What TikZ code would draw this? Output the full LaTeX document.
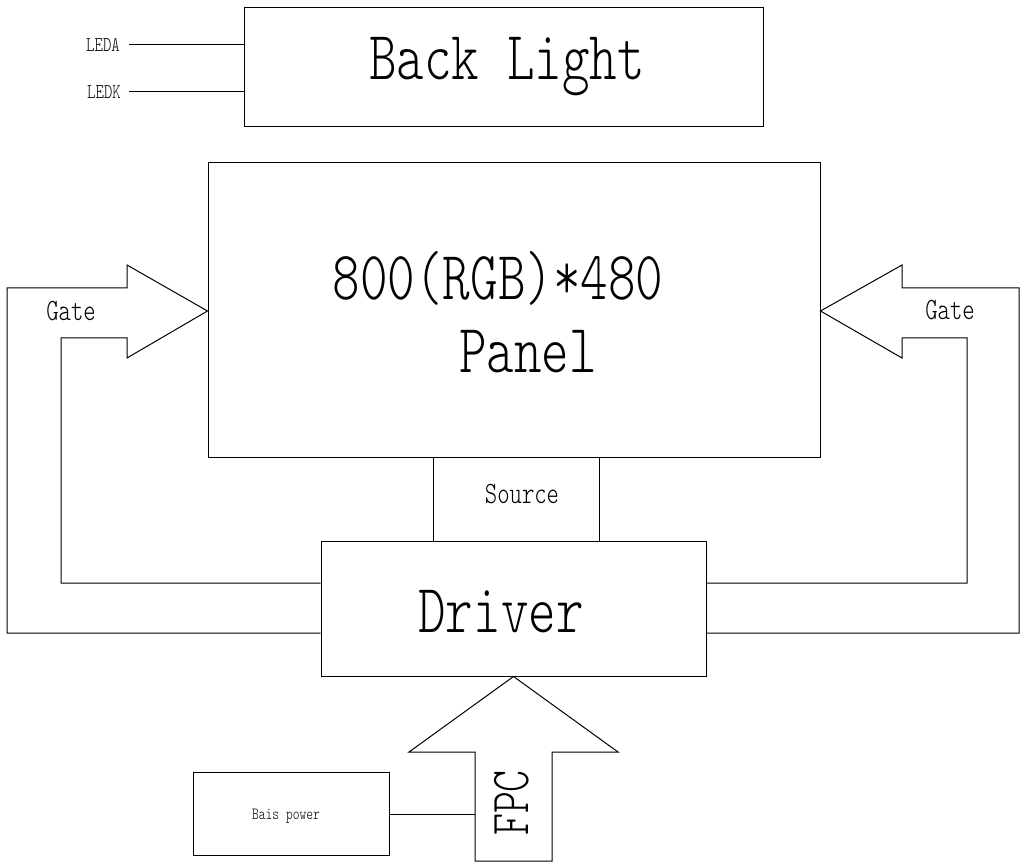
\documentclass[tikz,border=0pt]{standalone}
\usepackage{fontspec}
\usepackage{tikz}
\newfontfamily\cadfont[FakeStretch=0.76]{Latin Modern Mono Light}
\tikzset{
  blk/.style={draw, line width=1pt, minimum width=#1, inner sep=0pt},
  wire/.style={draw, line width=1pt},
  big/.style={font=\cadfont\fontsize{69}{69}\selectfont, inner sep=0pt},
  mid/.style={font=\cadfont\fontsize{31}{31}\selectfont, inner sep=0pt},
  small/.style={font=\cadfont\fontsize{21}{21}\selectfont, inner sep=0pt}
}
\begin{document}
\begin{tikzpicture}[x=1pt, y=-1pt]
\useasboundingbox (0,0) rectangle (1025,866);
\node[blk=519pt, minimum height=119pt] (Back) at (503.5,67.5) {};
\node[blk=612pt, minimum height=294pt] (Panel) at (514,310) {};
\node[blk=385pt, minimum height=135pt] (Driver) at (513.5,608.5) {};
\node[blk=196pt, minimum height=83pt] (Bais) at (291,813.5) {};
\node[big, anchor=base] (Label) at (507,80) {Back Light};
\node[big, anchor=base] (Label) at (498,300) {800(RGB)*480};
\node[big, anchor=base] (Label) at (528,372) {Panel};
\node[big, anchor=base] (Label) at (501,632) {Driver};
\node[mid, anchor=base] (Label) at (71,321) {Gate};
\node[mid, anchor=base] (Label) at (950,320) {Gate};
\node[mid, anchor=base] (Label) at (522,503) {Source};
\node[small, anchor=base] (Label) at (103,52) {LEDA};
\node[small, anchor=base] (Label) at (104,99) {LEDK};
\node[font=\cadfont\fontsize{17}{17}\selectfont, inner sep=0pt, anchor=base] (Label) at (286,819) {Bais power};
\node[font=\cadfont\fontsize{55}{55}\selectfont, inner sep=0pt, anchor=base, rotate=90] (Label) at (528,803) {FPC};
\foreach \y/\n in {45/A,92/K}{
  \coordinate (Led\n) at (129,\y);
  \draw[wire] (Led\n) -- (Led\n -| Back.west);
}
\foreach \x/\n in {433/L,599/R}{
  \coordinate (Src\n) at (\x,500);
  \draw[wire] (Src\n |- Panel.south) -- (Src\n |- Driver.north);
}
\draw[wire] (Driver.west |- 0,633) -- (7,633) -- (7,288) -- (127,288) -- (127,265)
  -- (Panel.west |- 0,311) -- (127,358) -- (127,338) -- (61,338) -- (61,583) -- (Driver.west |- 0,583);
\draw[wire] (Driver.east |- 0,633) -- (1019,633) -- (1019,288) -- (902,288) -- (902,265)
  -- (Panel.east |- 0,311) -- (902,358) -- (902,338) -- (967,338) -- (967,583) -- (Driver.east |- 0,583);
\draw[wire] (475,861) -- (475,752) -- (409,752) -- (Driver.south) -- (618,752) -- (552,752) -- (552,861) -- cycle;
\coordinate (FpcIn) at (475,814);
\draw[wire] (Bais.east |- FpcIn) -- (FpcIn);
\end{tikzpicture}
\end{document}
